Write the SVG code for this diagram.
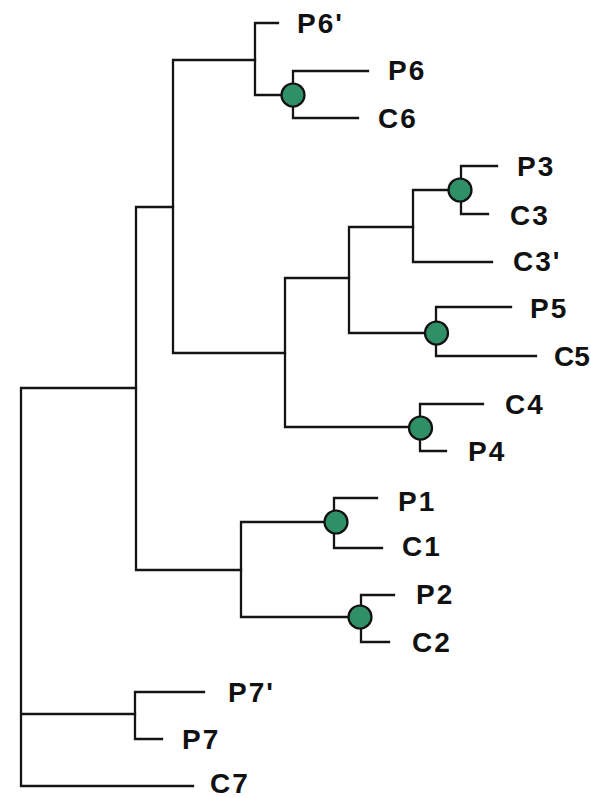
<svg xmlns="http://www.w3.org/2000/svg" width="591" height="798" viewBox="0 0 591 798">
<style>
.ln{fill:none;stroke:#141414;stroke-width:2.3;stroke-linecap:square}
.dot{fill:#2f8f67;stroke:#111;stroke-width:2.2}
.lb{font-family:"Liberation Sans",Arial,sans-serif;font-weight:bold;font-size:28px;fill:#111;letter-spacing:2px}
</style>
<rect width="591" height="798" fill="#fff"/>
<g id="connectors">
<path class="ln" d="M21 388V786M21 388H136M21 714H135M21 786H193"/>
<path class="ln" d="M135 692V739M135 692H204M135 739H162"/>
<path class="ln" d="M136 207V570M136 207H173M136 570H241"/>
<path class="ln" d="M173 60V353M173 60H255M173 353H285"/>
<path class="ln" d="M255 23V95M255 23H278M255 95H293"/>
<path class="ln" d="M293 71V118M293 71H368M293 118H358"/>
<path class="ln" d="M285 278V427M285 278H349M285 427H420"/>
<path class="ln" d="M349 227V333M349 227H413M349 333H436"/>
<path class="ln" d="M413 190V262M413 190H460M413 262H492"/>
<path class="ln" d="M461 166V214M461 166H497M461 214H488"/>
<path class="ln" d="M436 307V356M436 307H511M436 356H536"/>
<path class="ln" d="M420 404V451M420 404H483M420 451H446"/>
<path class="ln" d="M241 522V617M241 522H335M241 617H360"/>
<path class="ln" d="M334 498V548M334 498H377M334 548H382"/>
<path class="ln" d="M361 595V642M361 595H394M361 642H389"/>
</g>
<g id="node-P6-C6"><circle class="dot" cx="293" cy="95" r="11.5"/></g>
<g id="node-P3-C3"><circle class="dot" cx="460" cy="190" r="11.5"/></g>
<g id="node-P5-C5"><circle class="dot" cx="436.5" cy="333" r="11.5"/></g>
<g id="node-C4-P4"><circle class="dot" cx="420.5" cy="428" r="11.5"/></g>
<g id="node-P1-C1"><circle class="dot" cx="336" cy="522" r="11.5"/></g>
<g id="node-P2-C2"><circle class="dot" cx="360" cy="617" r="11.5"/></g>
<g id="leaf-P6p"><text class="lb" x="297" y="33">P6'</text></g>
<g id="leaf-P6"><text class="lb" x="388" y="80">P6</text></g>
<g id="leaf-C6"><text class="lb" x="378" y="128">C6</text></g>
<g id="leaf-P3"><text class="lb" x="517" y="176">P3</text></g>
<g id="leaf-C3"><text class="lb" x="510" y="225">C3</text></g>
<g id="leaf-C3p"><text class="lb" x="513" y="271">C3'</text></g>
<g id="leaf-P5"><text class="lb" x="530" y="318">P5</text></g>
<g id="leaf-C5"><text class="lb" x="554" y="366" style="letter-spacing:0">C5</text></g>
<g id="leaf-C4"><text class="lb" x="505" y="414">C4</text></g>
<g id="leaf-P4"><text class="lb" x="468" y="461">P4</text></g>
<g id="leaf-P1"><text class="lb" x="398" y="511">P1</text></g>
<g id="leaf-C1"><text class="lb" x="402" y="556">C1</text></g>
<g id="leaf-P2"><text class="lb" x="416" y="604">P2</text></g>
<g id="leaf-C2"><text class="lb" x="412" y="652">C2</text></g>
<g id="leaf-P7p"><text class="lb" x="228" y="702">P7'</text></g>
<g id="leaf-P7"><text class="lb" x="182" y="749">P7</text></g>
<g id="leaf-C7"><text class="lb" x="210" y="793">C7</text></g>
</svg>
